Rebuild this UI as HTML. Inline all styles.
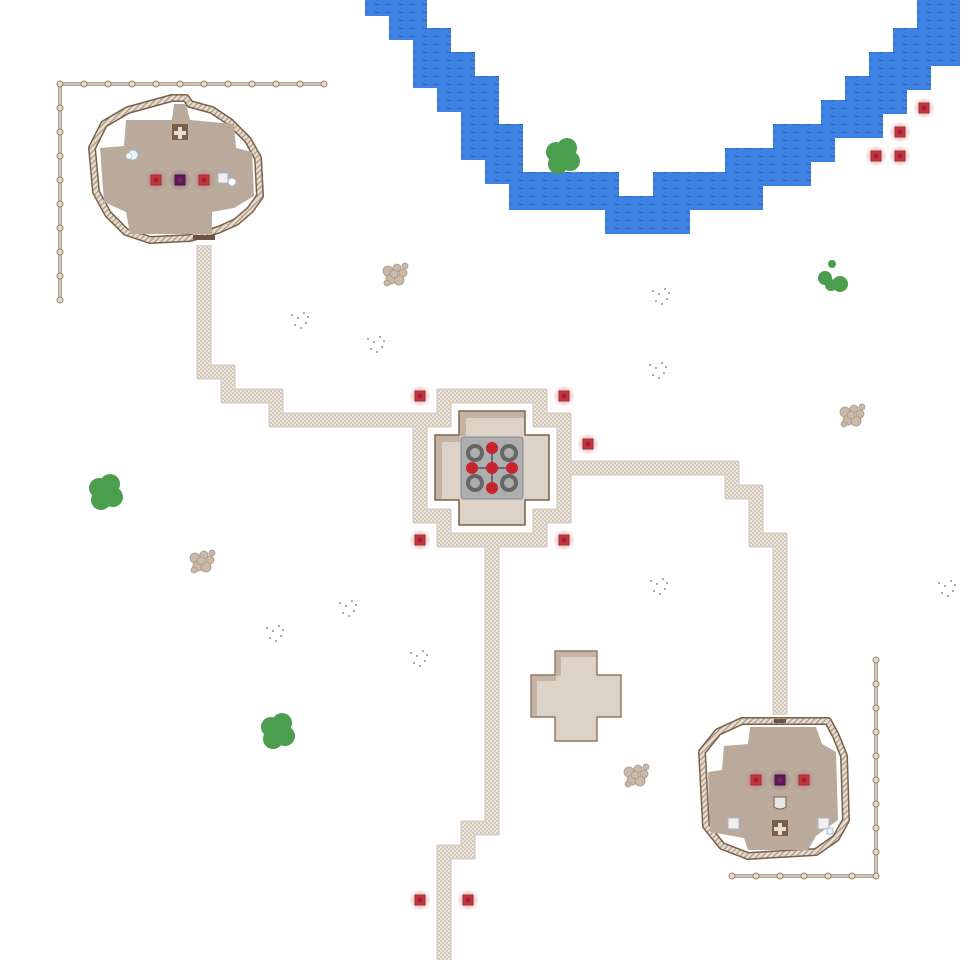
<!DOCTYPE html>
<html><head><meta charset="utf-8"><style>html,body{margin:0;padding:0;background:#fff}svg{display:block}</style></head>
<body>
<svg width="972" height="960" viewBox="0 0 972 960" xmlns="http://www.w3.org/2000/svg">
<defs>
<pattern id="chk" width="4" height="4" patternUnits="userSpaceOnUse">
<rect width="4" height="4" fill="#ece5da"/><rect width="2" height="2" fill="#d3c9bc"/><rect x="2" y="2" width="2" height="2" fill="#d3c9bc"/></pattern>
<pattern id="wave" width="12" height="8" patternUnits="userSpaceOnUse">
<rect width="12" height="8" fill="#3d82e3"/><rect x="2" y="4" width="5" height="1" fill="#2f66b8"/></pattern>
<pattern id="hatch" width="4" height="4" patternUnits="userSpaceOnUse" patternTransform="rotate(45)">
<rect width="4" height="4" fill="#e6ddd2"/><rect width="1.2" height="4" fill="#a89480"/></pattern>
<radialGradient id="glow"><stop offset="0.3" stop-color="#e05060" stop-opacity="0.5"/><stop offset="1" stop-color="#e05060" stop-opacity="0"/></radialGradient>
<radialGradient id="glowp"><stop offset="0.3" stop-color="#804080" stop-opacity="0.5"/><stop offset="1" stop-color="#804080" stop-opacity="0"/></radialGradient>
<g id="mk"><circle r="11" fill="url(#glow)"/><rect x="-5" y="-5" width="10" height="10" fill="#c8343f" stroke="#8a3a3a" stroke-width="1"/><circle r="2.5" fill="#a02030"/></g>
<g id="mkp"><circle r="11" fill="url(#glowp)"/><rect x="-5" y="-5" width="10" height="10" fill="#5a1a50" stroke="#3a1a3a" stroke-width="1"/><circle r="2.5" fill="#802070"/></g>
<g id="tree"><circle cx="-6" cy="-4" r="10" fill="#4a9e4e"/><circle cx="5" cy="-8" r="10" fill="#4a9e4e"/><circle cx="8" cy="5" r="10" fill="#4a9e4e"/><circle cx="-4" cy="8" r="10" fill="#4a9e4e"/><circle cx="0" cy="0" r="10" fill="#4a9e4e"/></g>
<g id="rock" fill="#c9b9a8" stroke="#a8988a" stroke-width="0.8"><circle cx="-7" cy="-5" r="5"/><circle cx="2" cy="-8" r="4"/><circle cx="8" cy="-3" r="4"/><circle cx="-4" cy="3" r="5"/><circle cx="4" cy="4" r="5"/><circle cx="-1" cy="-2" r="4"/><circle cx="10" cy="-10" r="3"/><circle cx="-8" cy="7" r="3"/></g>
<g id="grav" fill="#aaa"><rect x="0" y="0" width="2" height="2"/><rect x="6" y="3" width="2" height="2"/><rect x="12" y="-2" width="2" height="2"/><rect x="3" y="10" width="2" height="2"/><rect x="14" y="8" width="2" height="2"/><rect x="9" y="13" width="2" height="2"/><rect x="16" y="2" width="2" height="2"/></g>
</defs>
<rect width="972" height="960" fill="#fff"/>
<!-- river -->
<path d="M365,0 L365,16 L389,16 L389,40 L413,40 L413,88 L437,88 L437,112 L461,112 L461,160 L485,160 L485,184 L509,184 L509,210 L605,210 L605,234 L690,234 L690,210 L763,210 L763,186 L811,186 L811,162 L835,162 L835,138 L883,138 L883,114 L907,114 L907,90 L931,90 L931,66 L960,66 L960,0 L917,0 L917,28 L893,28 L893,52 L869,52 L869,76 L845,76 L845,100 L821,100 L821,124 L773,124 L773,148 L725,148 L725,172 L653,172 L653,196 L619,196 L619,172 L523,172 L523,124 L499,124 L499,76 L475,76 L475,52 L451,52 L451,28 L427,28 L427,0 Z" fill="url(#wave)"/>
<!-- paths -->
<g fill="none" stroke="#cfc4b6" stroke-width="15" stroke-linejoin="miter">
<polyline points="204,245 204,372 228,372 228,396 276,396 276,420 444,420"/>
<polygon points="420,420 420,516 444,516 444,540 540,540 540,516 564,516 564,420 540,420 540,396 444,396 444,420"/>
<polyline points="564,468 732,468 732,492 756,492 756,540 780,540 780,715"/>
<polyline points="492,540 492,828 468,828 468,852 444,852 444,960"/>
</g>
<g fill="none" stroke="url(#chk)" stroke-width="13" stroke-linejoin="miter">
<polyline points="204,245 204,372 228,372 228,396 276,396 276,420 444,420"/>
<polygon points="420,420 420,516 444,516 444,540 540,540 540,516 564,516 564,420 540,420 540,396 444,396 444,420"/>
<polyline points="564,468 732,468 732,492 756,492 756,540 780,540 780,715"/>
<polyline points="492,540 492,828 468,828 468,852 444,852 444,960"/>
</g>
<!-- central building -->
<path d="M459,411 H525 V435 H549 V500 H525 V525 H459 V500 H435 V435 H459 Z" fill="#dcd2c8" stroke="#7a6048" stroke-width="1.5"/>
<path d="M460,412 H524 V418 H466 V436 H460 Z M436,436 H460 V442 H442 V499 H436 Z" fill="#c4b4a4"/>
<rect x="461" y="437" width="62" height="62" rx="3" fill="#aeaeae" stroke="#888" stroke-width="1"/>
<g stroke="#666" stroke-width="4" fill="none">
<circle cx="475" cy="453" r="7"/><circle cx="509" cy="453" r="7"/><circle cx="475" cy="483" r="7"/><circle cx="509" cy="483" r="7"/></g>
<g stroke="#555" stroke-width="1.5"><line x1="492" y1="448" x2="492" y2="488"/><line x1="472" y1="468" x2="512" y2="468"/></g>
<g fill="#c8232f"><circle cx="492" cy="468" r="6"/><circle cx="492" cy="448" r="6"/><circle cx="492" cy="488" r="6"/><circle cx="472" cy="468" r="6"/><circle cx="512" cy="468" r="6"/></g>
<!-- lower cross -->
<path d="M555,651 H597 V675 H621 V717 H597 V741 H555 V717 H531 V675 H555 Z" fill="#dcd2c8" stroke="#7a6048" stroke-width="1.2"/>
<path d="M556,652 H596 V657 H561 V676 H556 Z M532,676 H556 V681 H537 V716 H532 Z" fill="#c4b4a4"/>
<!-- base top-left -->
<path d="M172,98 L186,98 L190,104 L212,110 L230,122 L248,140 L258,158 L260,196 L250,210 L236,222 L218,230 L190,238 L150,240 L126,232 L108,214 L96,192 L92,148 L104,124 L128,110 L150,104 Z" fill="#fff" stroke="#7a6048" stroke-width="8" stroke-linejoin="round"/>
<path d="M172,98 L186,98 L190,104 L212,110 L230,122 L248,140 L258,158 L260,196 L250,210 L236,222 L218,230 L190,238 L150,240 L126,232 L108,214 L96,192 L92,148 L104,124 L128,110 L150,104 Z" fill="none" stroke="url(#hatch)" stroke-width="5" stroke-linejoin="round"/>
<path d="M174,104 L186,104 L190,120 L234,124 L236,148 L252,152 L254,196 L234,208 L212,212 L212,234 L130,234 L126,212 L104,202 L100,148 L124,146 L126,120 L172,120 Z" fill="#b9aa9b"/>
<rect x="172" y="124" width="16" height="16" fill="#7a6048"/><path d="M178,127h4v4h4v4h-4v4h-4v-4h-4v-4h4z" fill="#e8ddd0"/>
<circle cx="133" cy="155" r="5" fill="#f0f2f8" stroke="#a8b8d0"/><circle cx="129" cy="156" r="3" fill="#fff" stroke="#a8b8d0" stroke-width=".6"/>
<rect x="218" y="173" width="10" height="10" fill="#f2f0ee" stroke="#a8b8d0"/><circle cx="232" cy="182" r="4" fill="#fff" stroke="#a8b8d0"/>
<rect x="193" y="235" width="22" height="5" fill="#6a5444"/>
<use href="#mk" x="156" y="180"/><use href="#mkp" x="180" y="180"/><use href="#mk" x="204" y="180"/>
<!-- base bottom-right -->
<path d="M742,721 L828,721 L836,736 L844,756 L846,820 L836,838 L816,852 L748,856 L722,846 L706,826 L702,752 L718,732 Z" fill="#fff" stroke="#7a6048" stroke-width="8" stroke-linejoin="round"/>
<path d="M742,721 L828,721 L836,736 L844,756 L846,820 L836,838 L816,852 L748,856 L722,846 L706,826 L702,752 L718,732 Z" fill="none" stroke="url(#hatch)" stroke-width="5" stroke-linejoin="round"/>
<path d="M750,727 L816,727 L822,744 L836,752 L838,820 L816,836 L808,850 L748,850 L744,838 L710,832 L708,772 L722,770 L724,746 L748,744 Z" fill="#b9aa9b"/>
<rect x="774" y="719" width="12" height="4" fill="#6a5444"/>
<use href="#mk" x="756" y="780"/><use href="#mkp" x="780" y="780"/><use href="#mk" x="804" y="780"/>
<path d="M774,797 h12 v10 q-6,4 -12,0z" fill="#eae4de" stroke="#7a6048"/>
<rect x="772" y="820" width="16" height="16" fill="#7a6048"/><path d="M778,823h4v4h4v4h-4v4h-4v-4h-4v-4h4z" fill="#e8ddd0"/>
<rect x="728" y="818" width="11" height="11" fill="#f2f0ee" stroke="#a8b8d0"/>
<rect x="818" y="818" width="11" height="11" fill="#f2f0ee" stroke="#a8b8d0"/><rect x="827" y="828" width="6" height="6" fill="#eef" stroke="#a8b8d0"/>
<!-- fences -->
<g stroke="#9a8470" stroke-width="3.5"><line x1="60" y1="84" x2="324" y2="84"/><line x1="60" y1="84" x2="60" y2="300"/><line x1="876" y1="660" x2="876" y2="876"/><line x1="732" y1="876" x2="876" y2="876"/></g>
<g stroke="#e6dbd0" stroke-width="1.5"><line x1="60" y1="84" x2="324" y2="84"/><line x1="60" y1="84" x2="60" y2="300"/><line x1="876" y1="660" x2="876" y2="876"/><line x1="732" y1="876" x2="876" y2="876"/></g>
<g fill="#e6dbd0" stroke="#9a8470" stroke-width="1">
<circle cx="60" cy="84" r="3"/><circle cx="84" cy="84" r="3"/><circle cx="108" cy="84" r="3"/><circle cx="132" cy="84" r="3"/><circle cx="156" cy="84" r="3"/><circle cx="180" cy="84" r="3"/><circle cx="204" cy="84" r="3"/><circle cx="228" cy="84" r="3"/><circle cx="252" cy="84" r="3"/><circle cx="276" cy="84" r="3"/><circle cx="300" cy="84" r="3"/><circle cx="324" cy="84" r="3"/>
<circle cx="60" cy="108" r="3"/><circle cx="60" cy="132" r="3"/><circle cx="60" cy="156" r="3"/><circle cx="60" cy="180" r="3"/><circle cx="60" cy="204" r="3"/><circle cx="60" cy="228" r="3"/><circle cx="60" cy="252" r="3"/><circle cx="60" cy="276" r="3"/><circle cx="60" cy="300" r="3"/>
<circle cx="876" cy="660" r="3"/><circle cx="876" cy="684" r="3"/><circle cx="876" cy="708" r="3"/><circle cx="876" cy="732" r="3"/><circle cx="876" cy="756" r="3"/><circle cx="876" cy="780" r="3"/><circle cx="876" cy="804" r="3"/><circle cx="876" cy="828" r="3"/><circle cx="876" cy="852" r="3"/><circle cx="876" cy="876" r="3"/>
<circle cx="732" cy="876" r="3"/><circle cx="756" cy="876" r="3"/><circle cx="780" cy="876" r="3"/><circle cx="804" cy="876" r="3"/><circle cx="828" cy="876" r="3"/><circle cx="852" cy="876" r="3"/>
</g>
<!-- markers -->
<use href="#mk" x="420" y="396"/><use href="#mk" x="564" y="396"/><use href="#mk" x="588" y="444"/><use href="#mk" x="420" y="540"/><use href="#mk" x="564" y="540"/>
<use href="#mk" x="420" y="900"/><use href="#mk" x="468" y="900"/>
<use href="#mk" x="924" y="108"/><use href="#mk" x="900" y="132"/><use href="#mk" x="876" y="156"/><use href="#mk" x="900" y="156"/>
<!-- trees -->
<use href="#tree" x="562" y="156"/><use href="#tree" x="105" y="492"/><use href="#tree" x="277" y="731"/>
<g fill="#4a9e4e"><circle cx="825" cy="278" r="7"/><circle cx="840" cy="284" r="8"/><circle cx="831" cy="285" r="6"/><circle cx="832" cy="264" r="4"/></g>
<!-- rocks -->
<use href="#rock" x="395" y="276"/><use href="#rock" x="852" y="417"/><use href="#rock" x="202" y="563"/><use href="#rock" x="636" y="777"/>
<!-- gravel -->
<use href="#grav" x="291" y="314"/><use href="#grav" x="367" y="338"/><use href="#grav" x="652" y="290"/><use href="#grav" x="649" y="364"/><use href="#grav" x="650" y="580"/><use href="#grav" x="938" y="582"/><use href="#grav" x="339" y="602"/><use href="#grav" x="266" y="627"/><use href="#grav" x="410" y="652"/>
</svg>
</body></html>
